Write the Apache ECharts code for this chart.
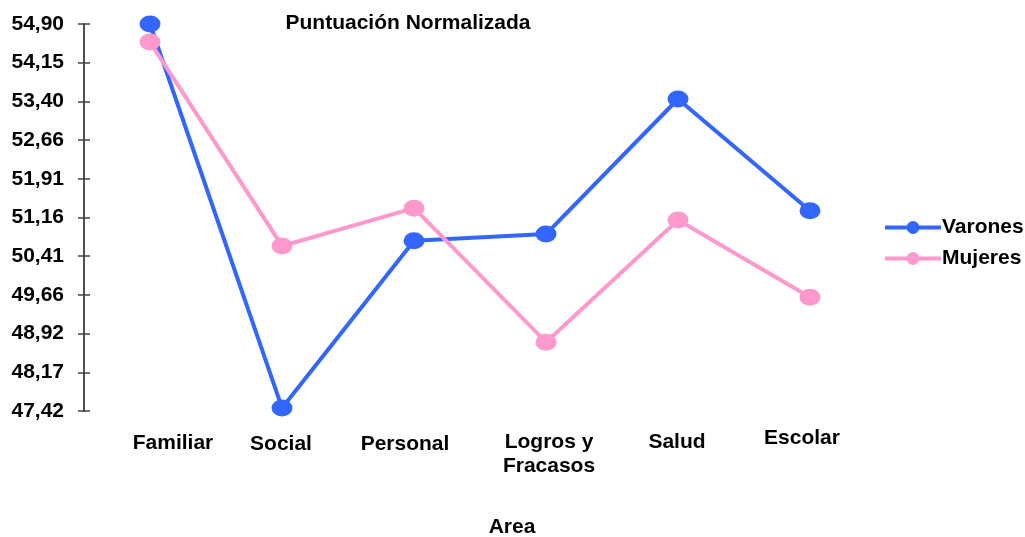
<!DOCTYPE html>
<html>
<head>
<meta charset="utf-8">
<script src="https://cdn.jsdelivr.net/npm/echarts@6/dist/echarts.min.js"></script>
<style>html,body{margin:0;padding:0;background:#fff;}#c{width:1025px;height:537px;}</style>
</head>
<body>
<div id="c"></div>
<script>
const categories = ['Familiar', 'Social', 'Personal', 'Logros y\nFracasos', 'Salud', 'Escolar'];
const varones = [54.90, 47.48, 50.71, 50.84, 53.45, 51.29];
const mujeres = [54.55, 50.61, 51.34, 48.75, 51.11, 49.62];
const yMin = 47.42, yMax = 54.90, yStep = 0.748;

// label nudges [dx, dy] in px (style only)
const labelNudge = [[23, 6], [-1, 7], [-9, 7], [3, 5], [-1, 5], [-8, 1]];

const font = 'Liberation Sans, Arial, sans-serif';
const chart = echarts.init(document.getElementById('c'));
const fmt = v => v.toFixed(2).replace('.', ',');
const yBase = {
  type: 'value', min: yMin, max: yMax, interval: yStep,
  splitLine: {show: false},
  axisLine: {show: true, lineStyle: {color: '#444', width: 1.5}},
};
const catData = categories.map((c, i) => {
  const [dx, dy] = labelNudge[i];
  return {value: c, textStyle: {padding: [dy, dx < 0 ? -2 * dx : 0, 0, dx > 0 ? 2 * dx : 0]}};
});
chart.setOption({
  animation: false,
  title: {text: 'Puntuación Normalizada', left: 403, top: 8, textAlign: 'center',
    textStyle: {fontFamily: font, fontSize: 21, fontWeight: 'bold', color: '#000'}},
  legend: {
    orient: 'vertical', left: 878, top: 212, itemGap: 10, itemWidth: 56, itemHeight: 16,
    lineStyle: {width: 4},
    textStyle: {fontFamily: font, fontSize: 21, fontWeight: 'bold', color: '#000', padding: [0,0,0,-4]},
    data: ['Varones', 'Mujeres']
  },
  grid: {left: 84, top: 24, width: 792, bottom: 126, containLabel: false, outerBoundsMode: 'none'},
  xAxis: {
    type: 'category', data: catData, boundaryGap: true,
    name: 'Area', nameLocation: 'middle', nameGap: 106,
    nameTextStyle: {fontFamily: font, fontSize: 21, fontWeight: 'bold', color: '#000', padding: [0,0,0,64]},
    axisLine: {show: false}, axisTick: {show: false},
    axisLabel: {margin: 14, fontFamily: font, fontSize: 21, fontWeight: 'bold', color: '#000', lineHeight: 24, verticalAlign: 'top'}
  },
  yAxis: [
    Object.assign({}, yBase, {
      axisTick: {show: true, length: 6, lineStyle: {color: '#444', width: 1.5}},
      axisLabel: {margin: 20, fontFamily: font, fontSize: 21, fontWeight: 'bold', color: '#000', formatter: fmt}
    }),
    Object.assign({}, yBase, {
      position: 'left',
      axisTick: {show: true, inside: true, length: 6, lineStyle: {color: '#444', width: 1.5}},
      axisLabel: {show: false}
    })
  ],
  series: [
    {name: 'Varones', type: 'line', data: varones, symbol: 'circle', symbolSize: [21, 17], clip: false,
      lineStyle: {width: 4, color: '#3366FF'}, itemStyle: {color: '#3366FF'}},
    {name: 'Mujeres', type: 'line', data: mujeres, symbol: 'circle', symbolSize: [21, 17], clip: false,
      lineStyle: {width: 4, color: '#FF99CC'}, itemStyle: {color: '#FF99CC'}}
  ]
});
</script>
</body>
</html>
